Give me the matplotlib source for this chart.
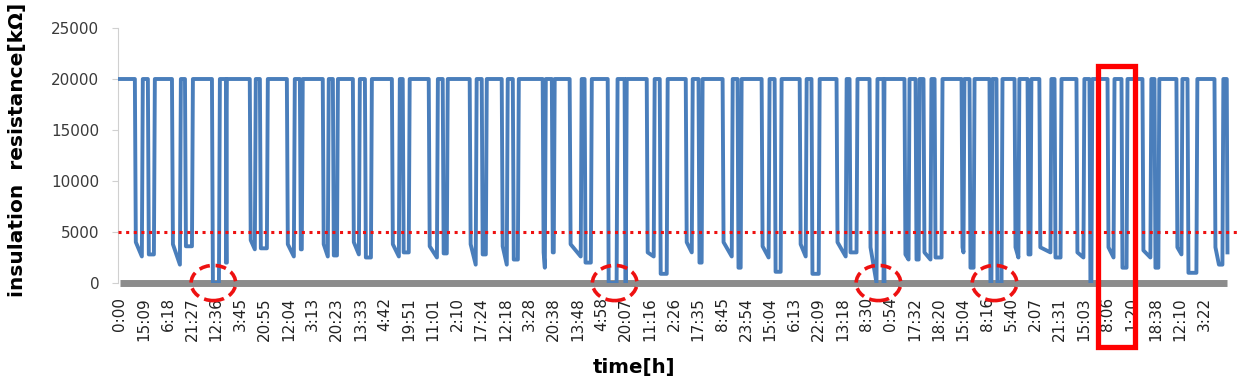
import matplotlib
matplotlib.use("Agg")
import matplotlib.pyplot as plt
from matplotlib.patches import Ellipse, Rectangle

tick_labels = [
    "0:00", "15:09", "6:18", "21:27", "12:36", "3:45", "20:55", "12:04",
    "3:13", "20:23", "13:33", "4:42", "19:51", "11:01", "2:10", "17:24",
    "12:18", "3:28", "20:38", "13:48", "4:58", "20:07", "11:16", "2:26",
    "17:35", "8:45", "23:54", "15:04", "6:13", "22:09", "13:18", "8:30",
    "0:54", "17:32", "18:20", "15:04", "8:16", "5:40", "2:07", "21:31",
    "15:03", "8:06", "1:20", "18:38", "12:10", "3:22",
]

# each low period of the resistance trace, in tick-label units
dip_start = [0.62, 2.16, 3.82, 5.39, 6.93, 8.42, 9.67, 11.29, 12.82, 14.52,
             15.85, 17.55, 18.67, 20.25, 21.87, 23.49, 25.02, 26.64, 28.22,
             29.75, 31.12, 32.57, 33.36, 34.94, 36.10, 37.14, 38.17, 39.71,
             41.00, 42.45, 43.86, 45.44]
dip_end = [1.45, 3.03, 4.44, 6.14, 7.59, 9.05, 10.46, 12.03, 13.61, 15.23,
           16.56, 18.05, 19.59, 21.04, 22.74, 24.19, 25.81, 27.47, 29.05,
           30.62, 31.74, 33.20, 34.15, 35.48, 36.64, 37.84, 39.09, 40.37,
           41.83, 43.15, 44.73, 45.81]
spike_start = [0.95, 2.53, 4.15, 5.64, 7.26, 8.67, 9.96, 11.62, 13.20, 14.81,
               16.10, 17.68, 19.17, 20.66, 22.20, 23.78, 25.44, 26.97, 28.51,
               30.17, 31.45, 32.78, 33.69, 35.06, 36.22, 37.34, 38.67, 40.04,
               41.29, 42.82, 44.11, None]
spike_end = [1.16, 2.70, 4.40, 5.81, 7.47, 8.84, 10.17, 11.74, 13.40, 15.02,
             16.31, 17.93, 19.29, 20.95, 22.41, 24.02, 25.64, 27.18, 28.71,
             30.29, 31.70, 33.03, 33.82, 35.27, 36.39, 37.68, 38.80, 40.25,
             41.58, 42.95, 44.32, None]
level_in = [4000, 3800, 0, 4200, 3800, 3800, 4000, 3800, 3600, 3800,
            3600, 3000, 3800, 0, 3000, 4000, 4000, 3600, 3800, 4000,
            3500, 2800, 3000, 3500, 0, 3500, 3500, 3000, 3500, 3200,
            3500, 3500]
level_low = [2600, 1800, 0, 3300, 2600, 2600, 2800, 2600, 2500, 1800,
             1800, 1500, 2600, 0, 2600, 3000, 2600, 2500, 2600, 2600,
             0, 2300, 2300, 3000, 0, 2500, 3000, 2500, 2500, 2500,
             2800, 1800]
level_out = [2800, 3600, 2000, 3400, 3300, 2700, 2500, 3000, 2900, 2800,
             2300, 3000, 2000, 0, 900, 2000, 1500, 1100, 900, 3000,
             0, 2300, 2500, 1500, 0, 2800, 2500, 0, 1500, 1500,
             1000, 1800]

HIGH = 20000
LIMIT = 5000
end_x = 45.98
end_level = 3000

circled_x = [3.88, 20.54, 31.49, 36.31]
box_left, box_right = 40.62, 42.16


def build_trace():
    xs, ys = [0.0], [HIGH]
    for i in range(len(dip_start)):
        s, e = dip_start[i], dip_end[i]
        ss, se = spike_start[i], spike_end[i]
        xs += [s, s + 0.04]
        ys += [HIGH, level_in[i]]
        if ss is not None:
            xs += [ss - 0.04, ss, se, se + 0.04]
            ys += [level_low[i], HIGH, HIGH, level_out[i]]
        else:
            xs += [(s + e) / 2]
            ys += [level_low[i]]
        xs += [e - 0.04, e]
        ys += [level_out[i], HIGH]
    xs += [end_x - 0.03, end_x]
    ys += [HIGH, end_level]
    return xs, ys


x, y = build_trace()

fig = plt.figure(figsize=(12.43, 3.88), dpi=100)
ax = fig.add_axes([118 / 1243, 1 - 283 / 388, 1122 / 1243, 255 / 388])

ax.plot(x, y, color="#4a7ebb", lw=2.8, zorder=3)
ax.axhline(LIMIT, color="#ee1111", ls=(0, (1, 1.5)), lw=2.2, zorder=4)
ax.hlines(0, 0, end_x, color="#8c8c8c", lw=5, zorder=2, clip_on=False)

ax.set_xlim(-0.08, 46.5)
ax.set_ylim(0, 25000)
ax.set_yticks(range(0, 25001, 5000))
ax.set_xticks(range(len(tick_labels)))
ax.set_xticklabels(tick_labels, rotation=90, va="top")

for side in ("top", "right", "bottom"):
    ax.spines[side].set_visible(False)
ax.spines["left"].set_color("#d0d0d0")
ax.tick_params(axis="y", length=4.5, color="#d0d0d0", pad=9,
               labelsize=11, labelcolor="#3a3a3a")
ax.tick_params(axis="x", length=0, pad=10, labelsize=11, labelcolor="#222222")

for cx in circled_x:
    ax.add_patch(Ellipse((cx, 0), 1.85, 3450, fill=False, ec="#ee1111",
                         lw=2.6, ls=(0, (3, 1.6)), zorder=6, clip_on=False))
ax.add_patch(Rectangle((box_left, -6275), box_right - box_left, 27550,
                       fill=False, ec="#ff0000", lw=3.8, zorder=7,
                       clip_on=False))

fig.text(18 / 1243, 1 - 150 / 388, "insulation  resistance[kΩ]",
         rotation=90, ha="center", va="center", fontsize=14.5,
         fontweight="bold")
fig.text(634 / 1243, 1 - 368 / 388, "time[h]", ha="center", va="center",
         fontsize=14.2, fontweight="bold")

fig.savefig("out.png", dpi=100)
